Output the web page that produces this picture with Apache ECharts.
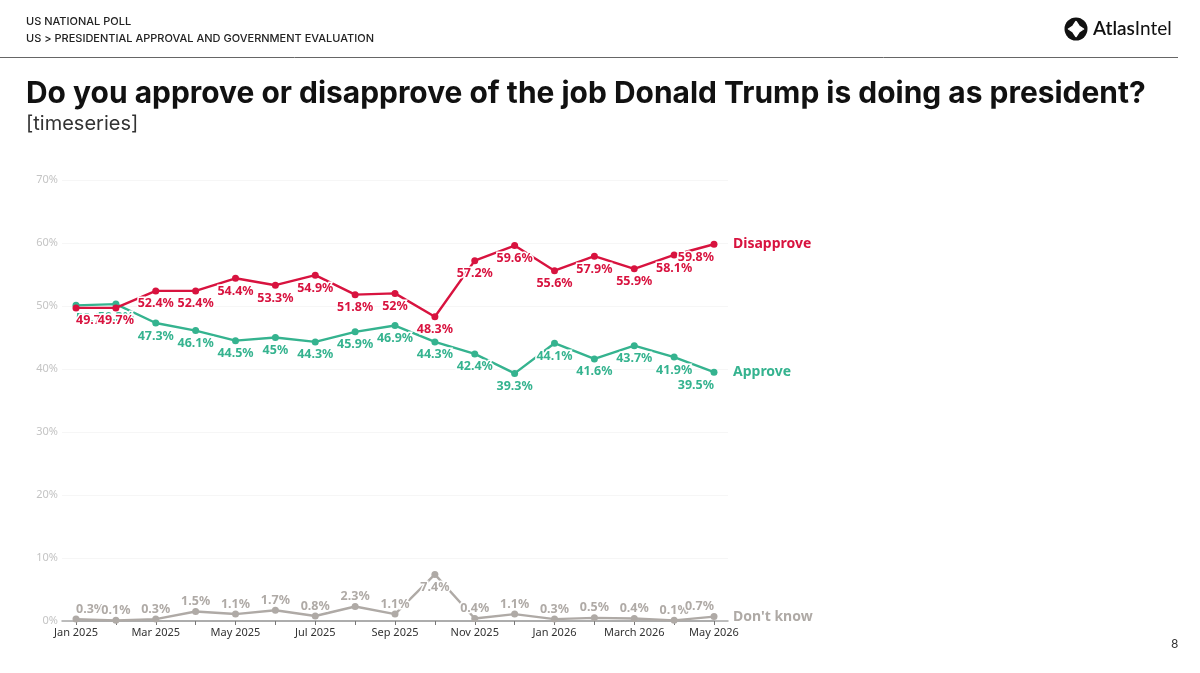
<!DOCTYPE html>
<html><head><meta charset="utf-8">
<style>html,body{margin:0;padding:0;background:#fff}#c{width:1200px;height:673px}</style>
<script src="https://cdn.jsdelivr.net/npm/echarts@6/dist/echarts.min.js"></script>
</head><body><div id="c"></div>
<script>
const categories = ['Jan 2025','Feb 2025','Mar 2025','Apr 2025','May 2025','Jun 2025','Jul 2025','Aug 2025','Sep 2025','Oct 2025','Nov 2025','Dec 2025','Jan 2026','Feb 2026','March 2026','Apr 2026','May 2026'];
const approve = [50.1,50.3,47.3,46.1,44.5,45,44.3,45.9,46.9,44.3,42.4,39.3,44.1,41.6,43.7,41.9,39.5];
const disapprove = [49.7,49.7,52.4,52.4,54.4,53.3,54.9,51.8,52,48.3,57.2,59.6,55.6,57.9,55.9,58.1,59.8];
const dontKnow = [0.3,0.1,0.3,1.5,1.1,1.7,0.8,2.3,1.1,7.4,0.4,1.1,0.3,0.5,0.4,0.1,0.7];
const yTicks = [0,10,20,30,40,50,60,70];

const RED='#D8133F', GREEN='#35B38F', GREY='#AFAAA6';
const F='"Noto Sans"';
function pts(arr,pos){
  const peak=Math.max(...arr);
  return arr.map((v,i)=>{
    const it={value:v};
    if(i===0) it.label={align:'left'};
    if(i===arr.length-1) it.label={align:'right'};
    if(pos==='top' && v===peak) it.label={position:'bottom',distance:3};
    return it;
  });
}
function line(name,arr,color,pos,z,lab){
  return {
    name,type:'line',xAxisIndex:1,yAxisIndex:1,data:pts(arr,pos),z,
    symbol:'circle',symbolSize:7,smooth:false,
    lineStyle:{color,width:2.4},itemStyle:{color},
    label:{show:true,position:pos,distance:lab,color,fontFamily:F,fontWeight:700,fontSize:12.5,
      formatter:p=>p.value+'%',textBorderColor:'#fff',textBorderWidth:3},
    labelLayout:{hideOverlap:false},
    endLabel:{show:true,formatter:()=>name,color,fontFamily:F,fontWeight:700,fontSize:14,distance:19,
      textBorderWidth:0,align:'left',verticalAlign:'middle'},
    animation:false
  };
}
const tt=(left,top,text,size,weight,color,font)=>({left,top,text,textStyle:{fontFamily:font,fontSize:size,fontWeight:weight,color},padding:0});
const chart=echarts.init(document.getElementById('c'),null,{renderer:'canvas'});
chart.setOption({
  animation:false,backgroundColor:'#fff',
  title:[
    tt(26,16,'US NATIONAL POLL',11,500,'#222','Inter'),
    tt(26,33,'US > PRESIDENTIAL APPROVAL AND GOVERNMENT EVALUATION',11,500,'#222','Inter'),
    tt(26,79,'Do you approve or disapprove of the job Donald Trump is doing as president?',29.95,700,'#111','Inter'),
    tt(26,114,'[timeseries]',20,400,'#333','Inter'),
    tt(1171,638,'8',12,400,'#333','Inter')
  ],
  graphic:[
    {type:'line',shape:{x1:0,y1:57.5,x2:1178,y2:57.5},style:{stroke:'#666',lineWidth:1}},
    {type:'circle',shape:{cx:1076,cy:29,r:11.5},style:{fill:'#111'}},
    {type:'polygon',shape:{points:[[1076,21.5],[1079,26],[1083.5,29],[1079,32],[1076,36.5],[1073,32],[1068.5,29],[1073,26]]},style:{fill:'#fff',stroke:'#fff',lineWidth:1.5,lineJoin:'round'}},
    {type:'text',left:1093,top:19,style:{text:'{a|Atlas}{b|Intel}',rich:{a:{fontFamily:'Lato',fontSize:19,fontWeight:600,fill:'#111'},b:{fontFamily:'Lato',fontSize:19,fontWeight:400,fill:'#111'}}}}
  ],
  grid:[
    {left:62,right:472,top:180,bottom:52},
    {left:76,right:486,top:180,bottom:52}
  ],
  xAxis:[
    {gridIndex:0,type:'value',min:0,max:1,axisLine:{show:true,onZero:true,lineStyle:{color:'#a8a8a8',width:1.5}},axisTick:{show:false},axisLabel:{show:false},splitLine:{show:false}},
    {gridIndex:1,type:'category',boundaryGap:false,data:categories,
      axisLine:{show:true,lineStyle:{color:'#a8a8a8',width:1.5}},
      axisTick:{show:true,interval:0,alignWithLabel:true,length:4,lineStyle:{color:'#777',width:1}},
      axisLabel:{interval:1,color:'#333',fontFamily:F,fontSize:11,margin:6,showMaxLabel:true,showMinLabel:true}}
  ],
  yAxis:[
    {gridIndex:0,type:'value',min:yTicks[0],max:yTicks[yTicks.length-1],interval:10,
      axisLine:{show:false},axisTick:{show:false},
      axisLabel:{formatter:'{value}%',color:'#c4c4c4',fontFamily:F,fontSize:11,margin:4},
      splitLine:{show:true,lineStyle:{color:'#f6f6f6',width:1}}},
    {gridIndex:1,type:'value',min:yTicks[0],max:yTicks[yTicks.length-1],interval:10,show:false}
  ],
  series:[
    line('Approve',approve,GREEN,'bottom',3,3),
    line('Disapprove',disapprove,RED,'bottom',4,3),
    line("Don't know",dontKnow,GREY,'top',2,0)
  ]
});
</script></body></html>
